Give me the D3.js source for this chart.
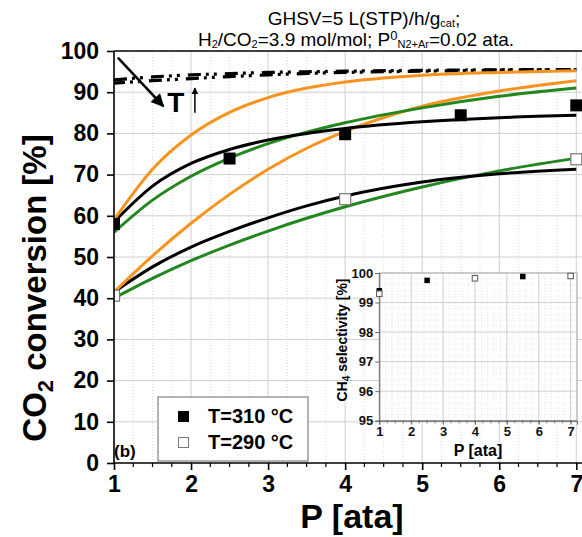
<!DOCTYPE html>
<html>
<head>
<meta charset="utf-8">
<script src="https://cdn.jsdelivr.net/npm/d3@7"></script>
<style>
body { margin: 0; background: #fff; }
svg { font-family: Arial, "Liberation Sans", sans-serif; }
</style>
</head>
<body>
<div id="chart"></div>
<script>
// pressure grid for the model curves [ata]
const pGrid = [1, 1.5, 2, 2.5, 3, 3.5, 4, 5, 6, 7];

// model curves, CO2 conversion [%]
const black310 = [58.5, 67.2, 72.7, 76.1, 78.4, 80, 81.2, 82.8, 83.8, 84.4];
const green310 = [56, 63.8, 69.6, 74, 77.5, 80.3, 82.6, 86.2, 89, 91];
const orange310 = [59, 71.3, 79.6, 85.1, 88.7, 91.0, 92.5, 94.1, 94.8, 95.2];
const black290 = [41.5, 47.6, 52.4, 56.2, 59.5, 62.4, 64.8, 68.2, 70.2, 71.3];
const green290 = [40, 44.8, 49.1, 52.9, 56.3, 59.4, 62.2, 67, 70.9, 74];
const orange290 = [41.5, 50.3, 58.2, 65.2, 71.3, 76.4, 80.5, 86.6, 90.3, 92.8];

// equilibrium conversion (dashed)
const eqUpper = [93.0, 93.7, 94.2, 94.5, 94.8, 94.95, 95.1, 95.3, 95.45, 95.5];
const eqLower = [92.2, 92.8, 93.3, 93.8, 94.2, 94.55, 94.8, 95.1, 95.35, 95.5];

// experiments
const p310 = [1, 2.5, 4, 5.5, 7];
const conv310 = [58, 73.9, 79.8, 84.4, 86.8];
const p290 = [1, 4, 7];
const conv290 = [40.5, 63.9, 73.6];

// inset: CH4 selectivity [%]
const sel310 = [99.4, 99.75, 99.88];
const selP310 = [1, 2.5, 5.5];
const sel290 = [99.3, 99.82, 99.9];
const selP290 = [1, 4, 7];

const xTicks = [1, 2, 3, 4, 5, 6, 7];
const yTicks = [0, 10, 20, 30, 40, 50, 60, 70, 80, 90, 100];
const insetYTicks = [95, 96, 97, 98, 99, 100];

const width = 582;
const height = 537;

const svg = d3.select("#chart").append("svg")
  .attr("width", width)
  .attr("height", height);

const x = d3.scaleLinear().domain([1, 7.1]).range([114, 584]);
const y = d3.scaleLinear().domain([0, 100]).range([463, 51]);

const defs = svg.append("defs");
defs.append("clipPath").attr("id", "plotclip")
  .append("rect")
  .attr("x", x(1)).attr("y", y(100))
  .attr("width", x(7.1) - x(1)).attr("height", y(0) - y(100));

defs.append("marker")
  .attr("id", "ah")
  .attr("markerUnits", "userSpaceOnUse")
  .attr("viewBox", "0 0 10 10")
  .attr("markerWidth", 15).attr("markerHeight", 13)
  .attr("refX", 9).attr("refY", 5)
  .attr("orient", "auto")
  .append("path").attr("d", "M0,0 L10,5 L0,10 z").attr("fill", "#000");

defs.append("marker")
  .attr("id", "ahSmall")
  .attr("markerUnits", "userSpaceOnUse")
  .attr("viewBox", "0 0 10 10")
  .attr("markerWidth", 7).attr("markerHeight", 7)
  .attr("refX", 9).attr("refY", 5)
  .attr("orient", "auto")
  .append("path").attr("d", "M0,0 L10,5 L0,10 z").attr("fill", "#000");

// grid
const grid = svg.append("g");
const minorX = d3.range(1.25, 7.1, 0.25).filter(v => Math.abs(v - Math.round(v)) > 0.01);
grid.selectAll(".mx").data(minorX).enter().append("line")
  .attr("x1", d => x(d)).attr("x2", d => x(d))
  .attr("y1", y(0)).attr("y2", y(100))
  .attr("stroke", "#dcdcdc").attr("stroke-width", 1).attr("stroke-dasharray", "1,2");
grid.selectAll(".gx").data(xTicks.slice(1)).enter().append("line")
  .attr("x1", d => x(d)).attr("x2", d => x(d))
  .attr("y1", y(0)).attr("y2", y(100))
  .attr("stroke", "#cfcfcf").attr("stroke-width", 1);
grid.selectAll(".gy").data(yTicks.slice(1, -1)).enter().append("line")
  .attr("x1", x(1)).attr("x2", width)
  .attr("y1", d => y(d)).attr("y2", d => y(d))
  .attr("stroke", "#cfcfcf").attr("stroke-width", 1);

// curves
const plot = svg.append("g").attr("clip-path", "url(#plotclip)");
const line = d3.line()
  .x((d, i) => x(pGrid[i]))
  .y(d => y(d))
  .curve(d3.curveMonotoneX);

const eqStyle = "13,5,3,5,3,8";
[eqUpper, eqLower].forEach((s, k) => {
  plot.append("path").datum(s)
    .attr("d", line)
    .attr("fill", "none").attr("stroke", "#000")
    .attr("stroke-width", 3.2)
    .attr("stroke-dasharray", eqStyle)
    .attr("stroke-dashoffset", k * 2);
});

const curves = [
  [green290, "#23871f"], [black290, "#000"], [orange290, "#f7931e"],
  [green310, "#23871f"], [black310, "#000"], [orange310, "#f7931e"]
];
curves.forEach(([s, c]) => {
  plot.append("path").datum(s)
    .attr("d", line)
    .attr("fill", "none").attr("stroke", c)
    .attr("stroke-width", 3);
});

// experimental points
const sq = 12;
plot.selectAll(".f").data(conv310).enter().append("rect")
  .attr("x", (d, i) => x(p310[i]) - sq / 2)
  .attr("y", d => y(d) - sq / 2)
  .attr("width", sq).attr("height", sq)
  .attr("fill", "#000");
plot.selectAll(".o").data(conv290).enter().append("rect")
  .attr("x", (d, i) => x(p290[i]) - sq / 2 + 0.5)
  .attr("y", d => y(d) - sq / 2)
  .attr("width", sq - 1).attr("height", sq - 1)
  .attr("fill", "#fff").attr("stroke", "#777").attr("stroke-width", 1.2);

// axes
const xAxis = svg.append("g")
  .attr("transform", `translate(0,${y(0)})`)
  .call(d3.axisBottom(x).tickValues(xTicks).tickFormat(d3.format("d")).tickSize(7).tickPadding(6));
xAxis.select(".domain").remove();
xAxis.append("line").attr("x1", x(1)).attr("x2", width).attr("stroke", "#000").attr("stroke-width", 1.6);
xAxis.selectAll(".mt").data(minorX).enter().append("line")
  .attr("x1", d => x(d)).attr("x2", d => x(d))
  .attr("y1", 0).attr("y2", 4)
  .attr("stroke", "#000").attr("stroke-width", 1.2);
xAxis.selectAll(".tick line").attr("stroke-width", 1.6);
xAxis.selectAll("text").attr("font-size", 23).attr("font-weight", "bold").attr("fill", "#000");

const yAxis = svg.append("g")
  .attr("transform", `translate(${x(1)},0)`)
  .call(d3.axisLeft(y).tickValues(yTicks).tickSize(7).tickPadding(8));
yAxis.select(".domain").remove();
yAxis.append("line").attr("y1", y(0)).attr("y2", y(100)).attr("stroke", "#000").attr("stroke-width", 1.6);
yAxis.selectAll(".tick line").attr("stroke-width", 1.6);
yAxis.selectAll("text").attr("font-size", 23).attr("font-weight", "bold").attr("fill", "#000");

// top frame
svg.append("line")
  .attr("x1", x(1)).attr("x2", width)
  .attr("y1", y(100)).attr("y2", y(100))
  .attr("stroke", "#000").attr("stroke-width", 1.6);

// axis titles
svg.append("text")
  .attr("x", 352).attr("y", 528)
  .attr("text-anchor", "middle")
  .attr("font-size", 34).attr("font-weight", "bold")
  .text("P [ata]");

const yt = svg.append("text")
  .attr("transform", "translate(46,288) rotate(-90)")
  .attr("text-anchor", "middle")
  .attr("font-size", 33).attr("font-weight", "bold");
yt.append("tspan").text("CO");
yt.append("tspan").attr("font-size", 22).attr("dy", 7).text("2");
yt.append("tspan").attr("dy", -7).text(" conversion");
yt.append("tspan").attr("dx", 9).text("[%]");

// title
const t1 = svg.append("text")
  .attr("x", 364).attr("y", 25)
  .attr("text-anchor", "middle").attr("font-size", 19);
t1.append("tspan").text("GHSV=5 L(STP)/h/g");
t1.append("tspan").attr("font-size", 11).attr("dy", 2).text("cat");
t1.append("tspan").attr("dy", -2).text(";");

const t2 = svg.append("text")
  .attr("x", 356).attr("y", 46)
  .attr("text-anchor", "middle").attr("font-size", 19);
t2.append("tspan").text("H");
t2.append("tspan").attr("font-size", 11).attr("dy", 2).text("2");
t2.append("tspan").attr("dy", -2).text("/CO");
t2.append("tspan").attr("font-size", 11).attr("dy", 2).text("2");
t2.append("tspan").attr("dy", -2).text("=3.9 mol/mol; P");
t2.append("tspan").attr("font-size", 13).attr("dy", -6).text("0");
t2.append("tspan").attr("font-size", 11).attr("dy", 8).text("N2+Ar");
t2.append("tspan").attr("dy", -2).text("=0.02 ata.");

// T arrow annotation
svg.append("line")
  .attr("x1", x(1.05)).attr("y1", y(98.4))
  .attr("x2", x(1.64)).attr("y2", y(86.6))
  .attr("stroke", "#000").attr("stroke-width", 2.5)
  .attr("marker-end", "url(#ah)");
svg.append("text")
  .attr("x", x(1.69)).attr("y", y(85.3))
  .attr("font-size", 28).attr("font-weight", "bold")
  .text("T");
svg.append("line")
  .attr("x1", x(2.05)).attr("y1", y(85))
  .attr("x2", x(2.05)).attr("y2", y(91))
  .attr("stroke", "#000").attr("stroke-width", 1.5)
  .attr("marker-end", "url(#ahSmall)");

// (b)
svg.append("text")
  .attr("x", 114).attr("y", 457)
  .attr("font-size", 17).attr("font-weight", "bold")
  .text("(b)");

// legend
const lg = svg.append("g");
lg.append("rect")
  .attr("x", 158).attr("y", 397).attr("width", 150).attr("height", 64)
  .attr("fill", "#fff").attr("stroke", "#999").attr("stroke-width", 1.5);
lg.append("rect").attr("x", 178).attr("y", 411).attr("width", 11).attr("height", 11).attr("fill", "#000");
lg.append("rect").attr("x", 178.5).attr("y", 437.5).attr("width", 10).attr("height", 10)
  .attr("fill", "#fff").attr("stroke", "#777").attr("stroke-width", 1);
lg.append("text").attr("x", 208).attr("y", 423)
  .attr("font-size", 20).attr("font-weight", "bold").text("T=310 °C");
lg.append("text").attr("x", 208).attr("y", 449)
  .attr("font-size", 20).attr("font-weight", "bold").text("T=290 °C");

// inset
const ix = d3.scaleLinear().domain([1, 7.2]).range([379.3, 577]);
const iy = d3.scaleLinear().domain([95, 100]).range([420.7, 273]);
const inset = svg.append("g");
inset.append("rect")
  .attr("x", ix(1)).attr("y", iy(100))
  .attr("width", ix(7.2) - ix(1)).attr("height", iy(95) - iy(100))
  .attr("fill", "#fff");
const iMinorX = d3.range(1.2, 7.2, 0.2).filter(v => Math.abs(v - Math.round(v)) > 0.01);
const iMinorY = d3.range(95.2, 100, 0.2).filter(v => Math.abs(v - Math.round(v)) > 0.01);
inset.selectAll(".imx").data(iMinorX).enter().append("line")
  .attr("x1", d => ix(d)).attr("x2", d => ix(d))
  .attr("y1", iy(95)).attr("y2", iy(100))
  .attr("stroke", "#e2e2e2").attr("stroke-dasharray", "1,2");
inset.selectAll(".imy").data(iMinorY).enter().append("line")
  .attr("x1", ix(1)).attr("x2", ix(7.2))
  .attr("y1", d => iy(d)).attr("y2", d => iy(d))
  .attr("stroke", "#e8e8e8").attr("stroke-dasharray", "1,2");
inset.selectAll(".igx").data(xTicks.slice(1)).enter().append("line")
  .attr("x1", d => ix(d)).attr("x2", d => ix(d))
  .attr("y1", iy(95)).attr("y2", iy(100))
  .attr("stroke", "#cfcfcf");
inset.selectAll(".igy").data(insetYTicks.slice(1, -1)).enter().append("line")
  .attr("x1", ix(1)).attr("x2", ix(7.2))
  .attr("y1", d => iy(d)).attr("y2", d => iy(d))
  .attr("stroke", "#cfcfcf");
inset.append("rect")
  .attr("x", ix(1)).attr("y", iy(100))
  .attr("width", ix(7.2) - ix(1)).attr("height", iy(95) - iy(100))
  .attr("fill", "none").attr("stroke", "#999").attr("stroke-width", 1);

const ixAxis = inset.append("g")
  .attr("transform", `translate(0,${iy(95)})`)
  .call(d3.axisBottom(ix).tickValues(xTicks).tickFormat(d3.format("d")).tickSize(4).tickPadding(2));
ixAxis.select(".domain").attr("stroke", "#666");
ixAxis.selectAll(".tick line").attr("stroke", "#666");
ixAxis.selectAll(".mt").data(d3.range(1.25, 7.2, 0.25)).enter().append("line")
  .attr("x1", d => ix(d)).attr("x2", d => ix(d))
  .attr("y1", 0).attr("y2", 2.5).attr("stroke", "#666");
ixAxis.selectAll("text").attr("font-size", 13).attr("font-weight", "bold").attr("fill", "#111");

const iyAxis = inset.append("g")
  .attr("transform", `translate(${ix(1)},0)`)
  .call(d3.axisLeft(iy).tickValues(insetYTicks).tickFormat(d3.format("d")).tickSize(4).tickPadding(2));
iyAxis.select(".domain").attr("stroke", "#666");
iyAxis.selectAll(".tick line").attr("stroke", "#666");
iyAxis.selectAll("text").attr("font-size", 13).attr("font-weight", "bold").attr("fill", "#111");

inset.append("text")
  .attr("x", 478).attr("y", 456)
  .attr("text-anchor", "middle")
  .attr("font-size", 16).attr("font-weight", "bold")
  .text("P [ata]");
const iyt = inset.append("text")
  .attr("transform", "translate(347,340) rotate(-90)")
  .attr("text-anchor", "middle")
  .attr("font-size", 14).attr("font-weight", "bold");
iyt.append("tspan").text("CH");
iyt.append("tspan").attr("font-size", 10).attr("dy", 3).text("4");
iyt.append("tspan").attr("dy", -3).text(" selectivity [%]");

const isq = 5.5;
inset.selectAll(".if").data(sel310).enter().append("rect")
  .attr("x", (d, i) => ix(selP310[i]) - isq / 2)
  .attr("y", d => iy(d) - isq / 2)
  .attr("width", isq).attr("height", isq)
  .attr("fill", "#000");
inset.selectAll(".io").data(sel290).enter().append("rect")
  .attr("x", (d, i) => ix(selP290[i]) - isq / 2)
  .attr("y", d => iy(d) - isq / 2)
  .attr("width", isq).attr("height", isq)
  .attr("fill", "#fff").attr("stroke", "#555").attr("stroke-width", 1);
</script>
</body>
</html>
